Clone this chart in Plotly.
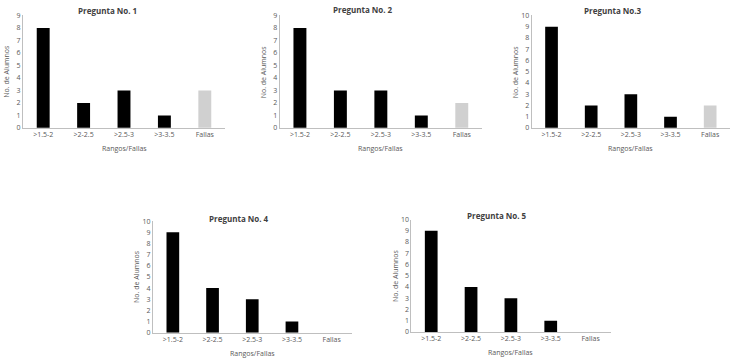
import plotly.graph_objects as go

categories = [">1.5-2", ">2-2.5", ">2.5-3", ">3-3.5", "Fallas"]
titles = ["Pregunta No. 1", "Pregunta No. 2", "Pregunta No.3", "Pregunta No. 4", "Pregunta No. 5"]
q1 = [8, 2, 3, 1, 3]
q2 = [8, 3, 3, 1, 2]
q3 = [9, 2, 3, 1, 2]
q4 = [9, 4, 3, 1, 0]
q5 = [9, 4, 3, 1, 0]
series = [q1, q2, q3, q4, q5]
ymax = [9, 9, 10, 10, 10]

W, H = 736, 363
# pixel boxes: (x0, x1, y_bottom, y_top)
boxes = [
    (23, 225, 126, 10.7),
    (279.7, 482, 126, 10.7),
    (531.7, 730, 126, 10.7),
    (153, 351.5, 336, 221.7),
    (411.3, 610.5, 335.3, 220),
]
title_pos = [(107, 6), (363, 5), (613, 6), (239, 219), (497, 216)]

bar_colors = ["#000000"] * 4 + ["#d0d0d0"]
FONT = "Open Sans"
GRAY = "#595959"

fig = go.Figure()
annotations = []
for i, (vals, box) in enumerate(zip(series, boxes)):
    n = i + 1
    xa = "x" if n == 1 else f"x{n}"
    ya = "y" if n == 1 else f"y{n}"
    fig.add_trace(go.Bar(x=categories, y=vals, marker=dict(color=bar_colors, line=dict(width=0)),
                         width=0.32, xaxis=xa, yaxis=ya, showlegend=False))
    x0, x1, yb, yt = box
    xd = [x0 / W, x1 / W]
    yd = [1 - yb / H, 1 - yt / H]
    key = "" if n == 1 else str(n)
    fig.update_layout(**{
        f"xaxis{key}": dict(domain=xd, anchor=ya, showline=True, linecolor="#bfbfbf", linewidth=1,
                            showgrid=False, ticks="", tickfont=dict(size=7, color=GRAY, family=FONT),
                            fixedrange=True),
        f"yaxis{key}": dict(domain=yd, anchor=xa, range=[0, ymax[i]], dtick=1, showline=True,
                            linecolor="#bfbfbf", linewidth=1, showgrid=False, zeroline=False, ticks="",
                            tickfont=dict(size=7, color=GRAY, family=FONT), fixedrange=True),
    })
    tx, ty = title_pos[i]
    annotations.append(dict(text=f"<b>{titles[i]}</b>", x=tx / W, y=1 - ty / H, xref="paper", yref="paper",
                            showarrow=False, xanchor="center", yanchor="middle",
                            font=dict(size=8, color="#404040", family=FONT)))
    annotations.append(dict(text="Rangos/Fallas", x=(x0 + x1) / 2 / W, y=1 - (yb + 21) / H,
                            xref="paper", yref="paper", showarrow=False, xanchor="center", yanchor="middle",
                            font=dict(size=7, color=GRAY, family=FONT)))
    annotations.append(dict(text="No. de Alumnos", x=(x0 - 16) / W, y=1 - (yb + yt) / 2 / H,
                            xref="paper", yref="paper", showarrow=False, textangle=-90,
                            xanchor="center", yanchor="middle",
                            font=dict(size=7, color=GRAY, family=FONT)))

fig.update_layout(width=W, height=H, margin=dict(l=0, r=0, t=0, b=0), autosize=False,
                  paper_bgcolor="white", plot_bgcolor="white", annotations=annotations,
                  bargap=0.68)
fig.write_html("out.html", config={"displayModeBar": False},
               post_script="document.body.style.margin='0';document.body.style.overflow='hidden';")
